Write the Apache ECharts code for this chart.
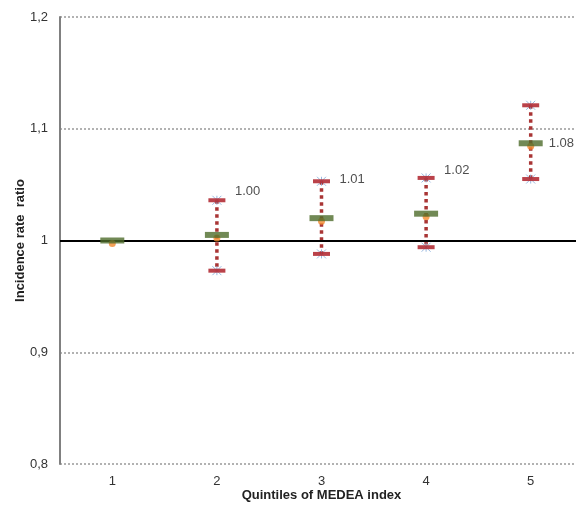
<!DOCTYPE html>
<html>
<head>
<meta charset="utf-8">
<script src="https://cdn.jsdelivr.net/npm/echarts@6/dist/echarts.min.js"></script>
<style>
  html, body { margin: 0; padding: 0; background: #fff; }
  #chart { width: 576px; height: 506px; }
</style>
</head>
<body>
<div id="chart"></div>
<script>
// quintiles and incidence rate ratios
var quintiles = ['1', '2', '3', '4', '5']
var irr = [1.0, 1.005, 1.020, 1.024, 1.087]
var lower = [null, 0.973, 0.988, 0.994, 1.055]
var upper = [null, 1.036, 1.053, 1.056, 1.121]
var irrLabels = ['', '1.00', '1.01', '1.02', '1.08']
// label offsets (px) - labels were placed by hand in the original
var labelOffsets = [[0, 0], [1, -43], [1, -39], [1, -43], [1, 0]]

var font = 'Liberation Sans, Arial, sans-serif'
var redDot = '#a93535'

var chart = echarts.init(document.getElementById('chart'), null, { renderer: 'canvas' })

function whisker(params, api) {
  var i = params.dataIndex
  if (lower[i] == null) return null
  var top = api.coord([api.value(0), api.value(2)])
  var bot = api.coord([api.value(0), api.value(1)])
  return {
    type: 'line',
    shape: { x1: top[0], y1: top[1], x2: bot[0], y2: bot[1] },
    style: { stroke: redDot, lineWidth: 3.5, lineDash: [3.5, 3.5] }
  }
}

var xPath = 'path://M0,0L10,10M10,0L0,10M5,0L5,10'

function pairs(arr) {
  return arr.map(function (v, i) { return v == null ? null : [i, v] }).filter(function (d) { return d })
}

var option = {
  backgroundColor: '#ffffff',
  animation: false,
  grid: { left: 60, top: 17, width: 523, height: 447, outerBoundsMode: 'none', containLabel: false },
  xAxis: {
    type: 'category',
    data: quintiles,
    boundaryGap: true,
    name: 'Quintiles of MEDEA index',
    nameLocation: 'middle',
    nameGap: 25,
    nameMoveOverlap: false,
    nameTextStyle: { fontFamily: font, fontWeight: 'bold', fontSize: 13, color: '#222' },
    axisLine: { show: false },
    axisTick: { show: false },
    axisLabel: { fontFamily: font, fontSize: 13, color: '#333', margin: 11 }
  },
  yAxis: {
    type: 'value',
    min: 0.8,
    max: 1.2,
    interval: 0.1,
    name: 'Incidence rate  ratio',
    nameLocation: 'middle',
    nameGap: 33,
    nameMoveOverlap: false,
    nameTextStyle: { fontFamily: font, fontWeight: 'bold', fontSize: 13, color: '#222' },
    axisLine: { show: true, lineStyle: { color: '#808080', width: 2 } },
    axisTick: { show: false },
    axisLabel: {
      fontFamily: font, fontSize: 13, color: '#333', margin: 12,
      formatter: function (v) { return String(+v.toFixed(1)).replace('.', ',') }
    },
    splitLine: {
      show: true,
      lineStyle: { color: '#999', type: [2, 2], width: 1.5 }
    }
  },
  series: [
    {
      type: 'custom',
      renderItem: whisker,
      data: quintiles.map(function (q, i) { return [i, lower[i], upper[i]] }),
      z: 2,
      markLine: {
        silent: true,
        symbol: 'none',
        label: { show: false },
        lineStyle: { color: '#000', type: 'solid', width: 2 },
        data: [{ yAxis: 1 }]
      }
    },
    {
      type: 'scatter',
      symbol: xPath,
      symbolSize: 9,
      itemStyle: { color: 'none', borderColor: '#7fa8d8', borderWidth: 1 },
      data: pairs(upper).concat(pairs(lower)),
      z: 3
    },
    {
      type: 'scatter',
      symbol: 'rect',
      symbolSize: [17, 4],
      itemStyle: { color: '#b22e36', opacity: 0.9 },
      data: pairs(upper).concat(pairs(lower)),
      z: 4
    },
    {
      type: 'scatter',
      symbol: 'circle',
      symbolSize: 7,
      symbolOffset: [0, 3],
      itemStyle: { color: '#f28a2e' },
      data: pairs(irr),
      z: 5
    },
    {
      type: 'scatter',
      symbol: 'rect',
      symbolSize: [24, 6],
      itemStyle: { color: '#4e6b2a' },
      data: irr.map(function (v, i) {
        return {
          value: [i, v],
          label: {
            show: irrLabels[i] !== '',
            position: 'right',
            offset: labelOffsets[i],
            formatter: irrLabels[i],
            fontFamily: font,
            fontSize: 13,
            color: '#222'
          }
        }
      }),
      z: 6
    }
  ]
}

chart.setOption(option)
</script>
</body>
</html>
